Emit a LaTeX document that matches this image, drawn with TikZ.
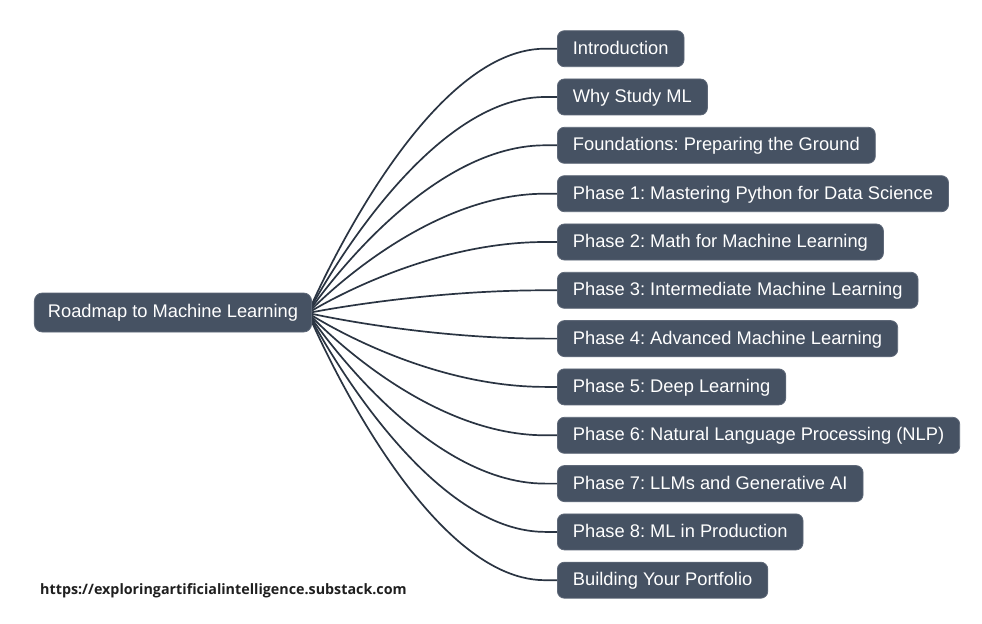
\documentclass[tikz,border=0pt]{standalone}
\usepackage{fontspec}
\setmainfont{Liberation Sans}
\newfontfamily\urlfont{Open Sans}
\usetikzlibrary{calc}
\definecolor{boxfill}{HTML}{465263}
\definecolor{boxline}{HTML}{5E6878}
\definecolor{linkcol}{HTML}{2A3442}
\tikzset{
  x=1bp, y=-1bp,
  mapbox/.style={draw=boxline, line width=0.8bp, fill=boxfill, text=white,
    rounded corners=7bp, font=\fontsize{18.3bp}{20bp}\selectfont\frenchspacing,
    text height=13.2bp, text depth=2.4bp, minimum height=36bp,
    inner ysep=0pt},
  rootbox/.style={mapbox, minimum height=39bp, inner xsep=13.5bp, rounded corners=8bp},
  childbox/.style={mapbox, anchor=west, inner xsep=15.5bp},
  link/.style={draw=linkcol, line width=1.7bp},
}
\begin{document}
\begin{tikzpicture}
\useasboundingbox (0,0) rectangle (982,624);
\fill[white] (0,0) rectangle (982,624);
\coordinate (hub) at (308,313);
\node[childbox] (c1) at (557,48.7) {Introduction};
\node[childbox] (c2) at (557,97.0) {Why Study ML};
\node[childbox] (c3) at (557,145.3) {Foundations: Preparing the Ground};
\node[childbox] (c4) at (557,193.7) {Phase 1: Mastering Python for Data Science};
\node[childbox] (c5) at (557,242.0) {Phase 2: Math for Machine Learning};
\node[childbox] (c6) at (557,290.3) {Phase 3: Intermediate Machine Learning};
\node[childbox] (c7) at (557,338.6) {Phase 4: Advanced Machine Learning};
\node[childbox] (c8) at (557,386.9) {Phase 5: Deep Learning};
\node[childbox] (c9) at (557,435.3) {Phase 6: Natural Language Processing (NLP)};
\node[childbox] (c10) at (557,483.6) {Phase 7: LLMs and Generative AI};
\node[childbox] (c11) at (557,531.9) {Phase 8: ML in Production};
\node[childbox] (c12) at (557,580.2) {Building Your Portfolio};
\foreach \i in {1,...,12}{
  \draw[link] (hub) .. controls (hub) and ($(c\i.west)+(-137,0)$) .. ($(c\i.west)+(-12,0)$) -- (c\i.west);
}
\node[rootbox] (root) at (173,312.5) {Roadmap to Machine Learning};
\node[anchor=west, inner sep=0pt, font=\urlfont\bfseries\fontsize{14.3bp}{16bp}\selectfont, text=black!88] (url) at (40,590.5) {https://exploringartificialintelligence.substack.com};
\end{tikzpicture}
\end{document}
